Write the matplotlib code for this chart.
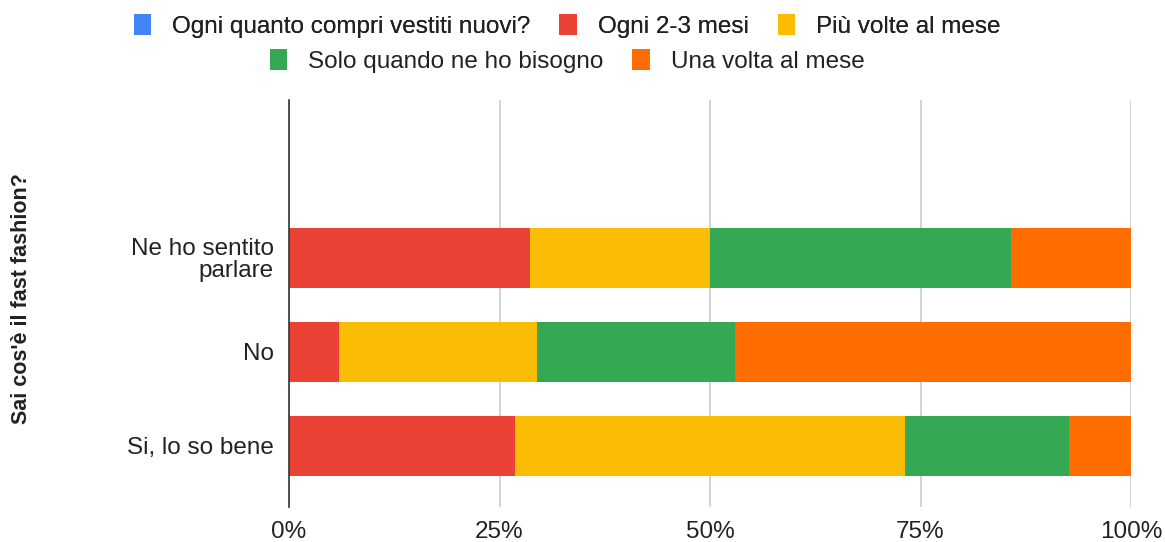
import matplotlib
matplotlib.use("Agg")
import matplotlib.pyplot as plt
from matplotlib.patches import Patch
import numpy as np

plt.rcParams['font.family'] = ['Liberation Sans', 'DejaVu Sans']

categories = ["Ne ho sentito\nparlare", "No", "Si, lo so bene"]
series_names = ["Ogni quanto compri vestiti nuovi?", "Ogni 2-3 mesi", "Più volte al mese",
                "Solo quando ne ho bisogno", "Una volta al mese"]
colors = ["#4285F4", "#EA4335", "#FBBC04", "#34A853", "#FF6D01"]
# percentages per category (order matches categories)
ogni_quanto = [0.0, 0.0, 0.0]
ogni_2_3_mesi = [28.57, 5.88, 26.83]
piu_volte = [21.43, 23.53, 46.34]
solo_bisogno = [35.71, 23.53, 19.51]
una_volta = [14.29, 47.06, 7.32]
series_values = [ogni_quanto, ogni_2_3_mesi, piu_volte, solo_bisogno, una_volta]
xticks = [0, 25, 50, 75, 100]
xtick_labels = ["0%", "25%", "50%", "75%", "100%"]

fig = plt.figure(figsize=(11.65, 5.42), dpi=100)
ax = fig.add_axes([289/1165, 1-507/542, (1131-289)/1165, (507-100)/542])

n = len(categories)
ypos = np.arange(n)[::-1]  # first category on top
left = np.zeros(n)
for name, vals, c in zip(series_names, series_values, colors):
    vals = np.array(vals)
    ax.barh(ypos, vals, left=left, height=0.64, color=c, label=name, zorder=3, linewidth=0)
    left += vals

ax.set_xlim(0, 100)
ax.set_ylim(-0.65, 3.68)
ax.set_xticks(xticks)
ax.set_xticklabels(xtick_labels)
ax.set_yticks(ypos)
ax.set_yticklabels(categories, multialignment='right', linespacing=1.0)
ax.tick_params(axis='both', length=0, labelsize=17.5, labelcolor='#222222')
ax.tick_params(axis='x', pad=10)
ax.tick_params(axis='y', pad=11)
ax.grid(axis='x', color='#cccccc', linewidth=1.2, zorder=0)
for s in ['top', 'right', 'bottom']:
    ax.spines[s].set_visible(False)
ax.spines['left'].set_color('#333333')
ax.spines['left'].set_linewidth(1.2)
ax.spines['left'].set_zorder(4)

fig.text(22/1165, 1-299/542, "Sai cos'è il fast fashion?", rotation=90, ha='center', va='center',
         fontsize=15.5, fontweight='bold', color='#222222')

handles = [Patch(facecolor=c, edgecolor='none') for c in colors]
leg_kw = dict(loc='center', frameon=False, fontsize=17.5, handlelength=0.72, handleheight=0.95,
              handletextpad=0.85, columnspacing=1.2, labelcolor='#222222')
leg1 = fig.legend(handles[:3], series_names[:3], bbox_to_anchor=(567/1165, 1-26/542), ncol=3, **leg_kw)
fig.add_artist(leg1)
leg2 = fig.legend(handles[3:], series_names[3:], bbox_to_anchor=(567/1165, 1-61/542), ncol=2, **leg_kw)

fig.savefig("out.png", dpi=100)
